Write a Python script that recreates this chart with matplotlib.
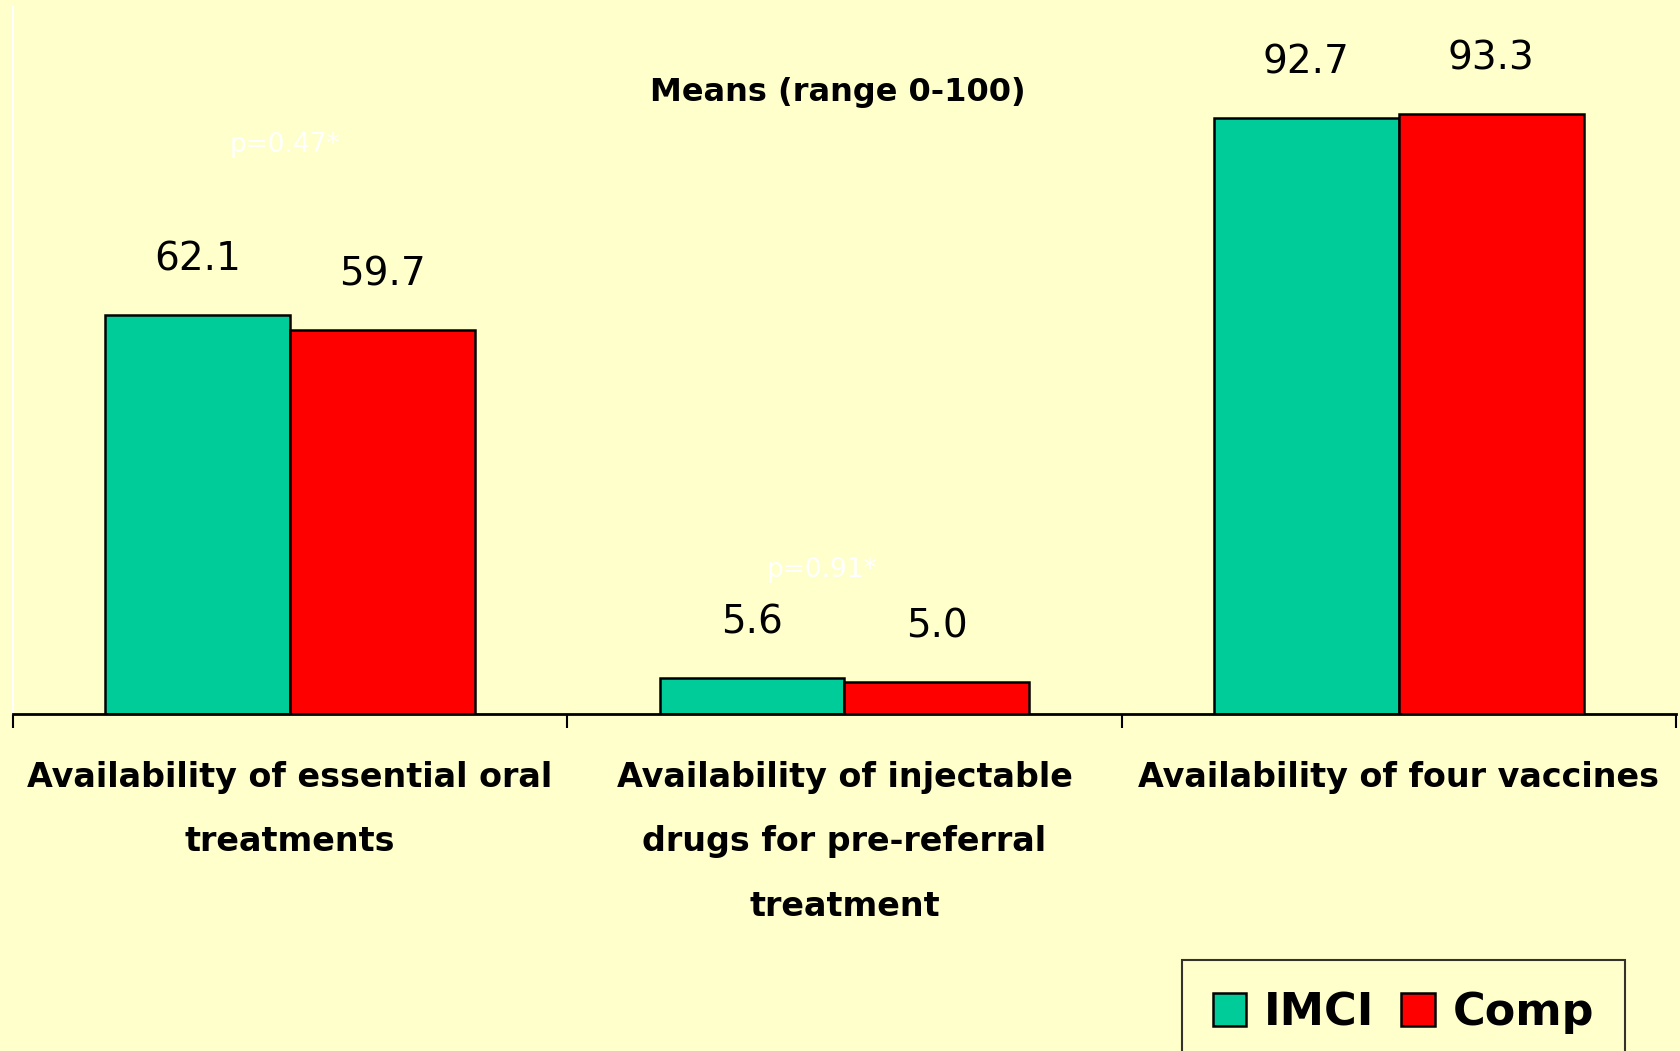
import matplotlib.pyplot as plt
import numpy as np

# data
categories = ["Availability of essential oral\ntreatments",
              "Availability of injectable\ndrugs for pre-referral\ntreatment",
              "Availability of four vaccines"]
imci = [62.1, 5.6, 92.7]
comp = [59.7, 5.0, 93.3]
series_names = ["IMCI", "Comp"]
pvalues = ["p=0.47*", "p=0.91*"]
pvalue_pos = [(-0.01, 88.6), (0.96, 22.4)]

bg = "#FFFFCC"
green = "#00CC99"
red = "#FF0000"

fig = plt.figure(figsize=(16.81, 10.51), dpi=100, facecolor=bg)
ax = fig.add_axes([0.0077, 0.3207, 0.9893, 0.6726])
ax.set_facecolor(bg)

x = np.arange(len(categories))
w = 1 / 3
b1 = ax.bar(x - w / 2, imci, w, color=green, edgecolor="black", linewidth=1.8, label=series_names[0])
b2 = ax.bar(x + w / 2, comp, w, color=red, edgecolor="black", linewidth=1.8, label=series_names[1])

for bars, vals in ((b1, imci), (b2, comp)):
    for r, v in zip(bars, vals):
        ax.annotate(f"{v:.1f}", (r.get_x() + r.get_width() / 2, v),
                    xytext=(0, 40), textcoords="offset points",
                    ha="center", va="center", fontsize=28)

for txt, (px, py) in zip(pvalues, pvalue_pos):
    ax.text(px, py, txt, color="white", fontsize=19, ha="center", va="center")

ax.set_xlim(-0.5, 2.5)
ax.set_ylim(0, 110)
ax.set_yticks([])

ax.set_xticks(x)
ax.set_xticklabels(categories, fontsize=24, fontweight="bold", linespacing=2.2)
ax.tick_params(axis="x", which="major", length=0, pad=34)
ax.set_xticks([-0.5, 0.5, 1.5, 2.5], minor=True)
ax.tick_params(axis="x", which="minor", length=10, width=1.5, direction="out")

for s in ("top", "right"):
    ax.spines[s].set_visible(False)
ax.spines["left"].set_color("white")
ax.spines["left"].set_linewidth(1.5)
ax.spines["bottom"].set_linewidth(2)

fig.text(838 / 1681, 1 - 93 / 1051, "Means (range 0-100)", fontsize=23,
         fontweight="bold", ha="center", va="center")

# legend box runs off the bottom edge, as in the original slide
leg = fig.legend(loc="upper left", bbox_to_anchor=(1182 / 1681, 1 - 960 / 1051),
                 ncol=2, prop={"weight": "bold", "size": 32},
                 frameon=True, fancybox=False, edgecolor="black",
                 handlelength=0.75, handleheight=0.75, handletextpad=0.4,
                 columnspacing=0.6, borderpad=0.7, borderaxespad=0)
leg.get_frame().set_facecolor(bg)
leg.get_frame().set_linewidth(1.5)

fig.savefig("out.png", dpi=100, facecolor=bg)
